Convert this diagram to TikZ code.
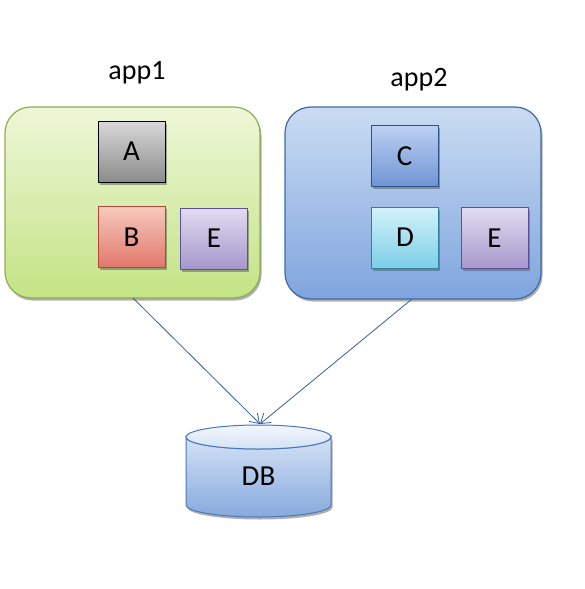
\documentclass[tikz,border=0pt]{standalone}
\usepackage{fontspec}
\setmainfont{Carlito}
\usetikzlibrary{arrows.meta,shadows}
\definecolor{gtop}{HTML}{EEF7D8}\definecolor{gbot}{HTML}{C4E385}\definecolor{gbor}{HTML}{8FAE52}
\definecolor{btop}{HTML}{CADCF2}\definecolor{bbot}{HTML}{7FA5DE}\definecolor{bbor}{HTML}{3E6AA3}
\definecolor{atop}{HTML}{D8D8D8}\definecolor{abot}{HTML}{8C8C8C}
\definecolor{rtop}{HTML}{F7C9BE}\definecolor{rbot}{HTML}{E0786A}\definecolor{rbor}{HTML}{B0463A}
\definecolor{ptop}{HTML}{E2DCF0}\definecolor{pbot}{HTML}{A597CC}\definecolor{pbor}{HTML}{5E4E9C}
\definecolor{ctop}{HTML}{BCD0F2}\definecolor{cbot}{HTML}{6F95D6}\definecolor{cbor}{HTML}{2C5088}
\definecolor{dtop}{HTML}{D4F2FA}\definecolor{dbot}{HTML}{7CCFE8}\definecolor{dbor}{HTML}{2F7FA0}
\definecolor{dbtop}{HTML}{D4E2F5}\definecolor{dbbot}{HTML}{86A9DE}\definecolor{dbbor}{HTML}{4A78B8}
\definecolor{arr}{HTML}{3A5F92}
\begin{document}
\begin{tikzpicture}[x=1pt,y=-1pt,
  shad/.style={drop shadow={shadow xshift=1.5pt,shadow yshift=-2.5pt,opacity=0.45,fill=black!70}},
  appbox/.style={rounded corners=26pt,line width=1.2pt,shad},
  comp/.style={minimum width=67pt,minimum height=61pt,inner sep=0pt,line width=1pt,font=\fontsize{29}{29}\selectfont,shad},
  lbl/.style={font=\fontsize{28}{28}\selectfont},
  conn/.style={draw=arr,line width=0.8pt,-{Straight Barb[length=9pt,width=12pt]}}]
\useasboundingbox (0,0) rectangle (585,589);
\fill[white] (0,0) rectangle (585,589);
% app boxes
\path[appbox,draw=gbor,top color=gtop,bottom color=gbot] (5,107) rectangle (260,298);
\path[appbox,draw=bbor,top color=btop,bottom color=bbot] (285,107) rectangle (541,299);
\node[lbl] (app1) at (137,73) {app1};
\node[lbl] (app2) at (419,80) {app2};
% components
\node[comp,draw=black,top color=atop,bottom color=abot] (A) at (131.5,151.5) {A};
\node[comp,draw=rbor,top color=rtop,bottom color=rbot] (B) at (131.5,237) {B};
\node[comp,draw=pbor,top color=ptop,bottom color=pbot] (E1) at (214,238.5) {E};
\node[comp,draw=cbor,top color=ctop,bottom color=cbot] (C) at (404.5,156) {C};
\node[comp,draw=dbor,top color=dtop,bottom color=dbot] (D) at (405,237.5) {D};
\node[comp,draw=pbor,top color=ptop,bottom color=pbot] (E2) at (494.5,238) {E};
% DB cylinder
\path[draw=dbbor,line width=1pt,top color=dbtop,bottom color=dbbot,shad]
  (186,437) -- (186,505) arc[x radius=72.5,y radius=12,start angle=180,end angle=0] -- (331,437) arc[x radius=72.5,y radius=12,start angle=0,end angle=180] -- cycle;
\path[draw=dbbor,line width=1pt,top color=white!70!dbtop,bottom color=dbtop] (258.5,437) ellipse[x radius=72.5,y radius=12];
\node[font=\fontsize{29}{29}\selectfont] (db) at (258.5,476) {DB};
\coordinate (dbtop) at (260,424);
\coordinate (s1) at (133,298);
\coordinate (s2) at (412,299);
\draw[conn] (s1) -- (dbtop);
\draw[conn] (s2) -- (dbtop);
\end{tikzpicture}
\end{document}
